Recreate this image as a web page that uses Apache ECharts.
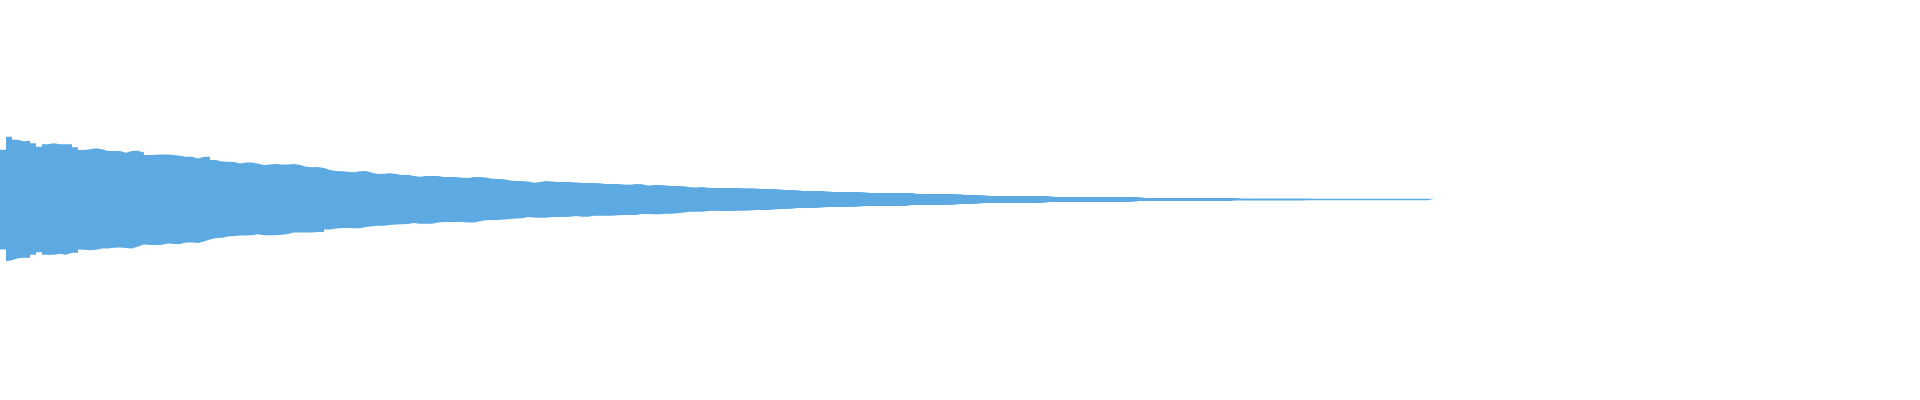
<!DOCTYPE html>
<html>
<head>
<meta charset="utf-8">
<script src="https://cdn.jsdelivr.net/npm/echarts@6/dist/echarts.min.js"></script>
<style>
html,body{margin:0;padding:0;background:#ffffff;}
#chart{width:1920px;height:400px;}
</style>
</head>
<body>
<div id="chart"></div>
<script>
// Envelope of the waveform: one sample per category (upper peaks and lower troughs)
const upperPeaks = [
  50, 63, 60, 58.5, 59, 56.5, 53, 55.5, 56.5, 55.5,
  55.5, 55.5, 52.5, 49.5, 50.5, 51.5, 50.5, 48.5, 48.5, 48.5,
  46.8, 48.5, 48.8, 47, 44.5, 44.8, 45.2, 45.2, 44.5, 43.8,
  42.8, 42.8, 41, 42.8, 42.8, 39.5, 38, 37.8, 37.5, 36.2,
  37.2, 37.2, 35.8, 34.5, 35, 35.5, 35, 35, 35.5, 34.5,
  32.8, 32.4, 32.5, 31.5, 29.5, 28.5, 28.3, 27.8, 27.2, 28.2,
  28.5, 26.8, 25.5, 25.7, 26.2, 25.5, 24.6, 24.8, 23.5, 22.8,
  23.5, 23.5, 23.5, 22.5, 22.5, 22.5, 21.8, 21.6, 22.5, 22.5,
  22, 20.8, 20.5, 20.3, 19, 18.5, 18.5, 18, 16.8, 17.5,
  18.5, 18, 17.5, 17.5, 17.5, 17, 16.5, 16.5, 16.5, 16.2,
  15.5, 15.5, 15.5, 15, 14.8, 15.5, 15.2, 14, 14.5, 14.5,
  14, 13.5, 13.5, 13.2, 12.3, 12, 12.5, 11.8, 11.5, 11.6,
  11.5, 11.5, 11.5, 11.4, 11.3, 11, 10.5, 10.5, 10.5, 10,
  9.5, 9.5, 9.2, 8.5, 8.5, 8.5, 8.5, 8, 7.5, 7.5,
  7.5, 7.5, 7.5, 7.2, 6.5, 6.5, 6.5, 6.5, 6.5, 6.5,
  6.5, 6.5, 5.5, 5.5, 5.5, 5.5, 5.5, 5.5, 5.5, 5.2,
  4.5, 4.5, 4.5, 4.3, 3.5, 3.5, 3.5, 3.5, 3.5, 3.5,
  3.5, 3.5, 3.5, 3.5, 3.2, 2.5, 2.5, 2.5, 2.5, 2.5,
  2.5, 2.5, 2.5, 2.5, 2.5, 2.5, 2.5, 2.5, 2.5, 2.3,
  1.6, 1.6, 1.6, 1.6, 1.6, 1.6, 1.6, 1.6, 1.6, 1.6,
  1.6, 1.6, 1.6, 1.6, 1.6, 1.6, 1.1, 1.1, 1.1, 1.1,
  1.1, 1.1, 1.1, 1.1, 1.1, 1.1, 1.1, 1.1, 0.8, 0.8,
  0.8, 0.8, 0.8, 0.8, 0.8, 0.8, 0.8, 0.8, 0.8, 0.8,
  0.8, 0.8, 0.8, 0.8, 0.8, 0.8, 0.8, 0.8, 0.8, 0.8
];
const lowerTroughs = [
  -50, -62, -61, -59, -58.5, -55.5, -53, -55.5, -55.5, -55.5,
  -54.5, -55.5, -53.5, -50, -50.5, -50.8, -50.5, -49, -49, -48.3,
  -48, -48.5, -49, -47, -45, -45.5, -45.5, -45.3, -44, -44.5,
  -44.5, -43, -43, -43.5, -42, -40, -38.5, -38.3, -37, -36.5,
  -36, -36, -35.8, -34.8, -35.8, -35.8, -35.8, -35.3, -34.5, -33,
  -33, -33, -33, -32.5, -30, -30, -29, -28.5, -28.5, -28.7,
  -28.8, -27.5, -26.8, -26.2, -26.2, -25.5, -25, -24.8, -24.5, -23.5,
  -24.2, -24.2, -24.2, -23, -22.5, -22.5, -22.5, -22.5, -23, -23,
  -21.8, -20.8, -20.5, -20.5, -20, -19.5, -19, -18.8, -17.5, -18,
  -18.2, -18.2, -17.5, -17.5, -17.5, -17.2, -16.5, -17.3, -17.3, -16.2,
  -16.2, -16.2, -16.2, -15.8, -15.5, -15.5, -15.5, -14.5, -14.5, -14.8,
  -14.8, -14.2, -14.2, -13.8, -13, -12.2, -12.2, -12.2, -11.6, -11.2,
  -11.5, -11.5, -11.5, -11.4, -11.3, -11, -10.5, -10.5, -10.5, -10,
  -9.5, -9.5, -9.2, -8.5, -8.5, -8.5, -8.5, -8, -7.5, -7.5,
  -7.5, -7.5, -7.5, -7.2, -6.5, -6.5, -6.5, -6.5, -6.5, -6.5,
  -6.5, -6.5, -5.5, -5.5, -5.5, -5.5, -5.5, -5.5, -5.5, -5.2,
  -4.5, -4.5, -4.5, -4.3, -3.5, -3.5, -3.5, -3.5, -3.5, -3.5,
  -3.5, -3.5, -3.5, -3.5, -3.2, -2.5, -2.5, -2.5, -2.5, -2.5,
  -2.5, -2.5, -2.5, -2.5, -2.5, -2.5, -2.5, -2.5, -2.5, -2.3,
  -1.6, -1.6, -1.6, -1.6, -1.6, -1.6, -1.6, -1.6, -1.6, -1.6,
  -1.6, -1.6, -1.6, -1.6, -1.6, -1.6, -1.1, -1.1, -1.1, -1.1,
  -1.1, -1.1, -1.1, -1.1, -1.1, -1.1, -1.1, -1.1, -0.8, -0.8,
  -0.8, -0.8, -0.8, -0.8, -0.8, -0.8, -0.8, -0.8, -0.8, -0.8,
  -0.8, -0.8, -0.8, -0.8, -0.8, -0.8, -0.8, -0.8, -0.8, -0.8
];
// sample index categories spanning the whole time axis (waveform fills the first part)
const sampleCount = 321;
const categories = Array.from({length: sampleCount}, (_, i) => String(i));
const amplitudeRange = [-200, 200];

// the band is drawn as lower trough + (peak - trough) stacked, so it is one filled shape
const bandSpan = upperPeaks.map((v, i) => v - lowerTroughs[i]);

const waveColor = '#5DAAE2';
const chart = echarts.init(document.getElementById('chart'), null, {renderer: 'canvas'});
chart.setOption({
  animation: false,
  backgroundColor: '#ffffff',
  grid: {left: 0, right: 0, top: 0, bottom: 1, containLabel: false},
  xAxis: {
    type: 'category',
    data: categories,
    boundaryGap: false,
    show: false
  },
  yAxis: {
    type: 'value',
    min: amplitudeRange[0],
    max: amplitudeRange[1],
    show: false
  },
  series: [
    {
      name: 'trough',
      type: 'line',
      data: lowerTroughs,
      stack: 'wave',
      stackStrategy: 'all',
      step: 'end',
      showSymbol: false,
      symbol: 'none',
      lineStyle: {width: 0, opacity: 0},
      silent: true
    },
    {
      name: 'peak',
      type: 'line',
      data: bandSpan,
      stack: 'wave',
      stackStrategy: 'all',
      step: 'end',
      showSymbol: false,
      symbol: 'none',
      lineStyle: {width: 0, opacity: 0},
      areaStyle: {color: waveColor, opacity: 1},
      silent: true
    }
  ]
});
</script>
</body>
</html>
